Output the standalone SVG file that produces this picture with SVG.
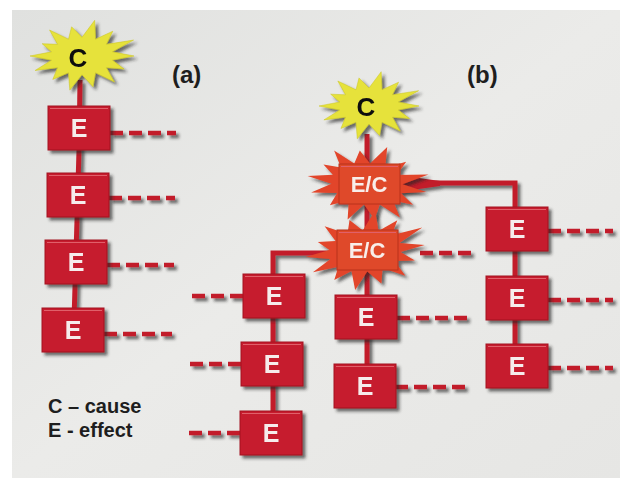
<svg xmlns="http://www.w3.org/2000/svg" xmlns:xlink="http://www.w3.org/1999/xlink" width="620" height="478" viewBox="0 0 620 478">
<defs>
<linearGradient id="page" x1="0" y1="0" x2="1" y2="1">
<stop offset="0" stop-color="#e0e1df"/>
<stop offset="0.5" stop-color="#ebebe9"/>
<stop offset="1" stop-color="#e6e6e4"/>
</linearGradient>
<filter id="sh" x="-20%" y="-20%" width="150%" height="150%">
<feDropShadow dx="3" dy="3" stdDeviation="1.5" flood-color="#222" flood-opacity="0.65"/>
</filter>
<polygon id="burst" points="50,0 29.3,4 40.5,12.5 23.5,11.2 31.2,25 13,16.2 10.6,29.6 0,18 -11.7,32.8 -13,16.2 -28.1,22.5 -23.5,11.2 -45.1,13.9 -29.3,4 -50,0 -29.3,-4 -38.3,-11.8 -23.5,-11.2 -31.2,-25 -13,-16.2 -10,-28.1 0,-18 12.2,-34.3 13,-16.2 29.6,-23.8 23.5,-11.2 49.6,-15.3 29.3,-4"/>
<style>
.lbl{font-family:"Liberation Sans",Arial,sans-serif;font-weight:bold;fill:#1e1e1e}
.ebox{fill:#c61f2e;stroke:#a3121f;stroke-width:1}
.ecbox{fill:#df4a2c;stroke:#b8301c;stroke-width:1}
.et{font-family:"Liberation Sans",Arial,sans-serif;font-weight:bold;font-size:25px;fill:#f6ecec;text-anchor:middle}
.ect{font-family:"Liberation Sans",Arial,sans-serif;font-weight:bold;font-size:22px;fill:#f8eeea;text-anchor:middle}
.ct{font-family:"Liberation Sans",Arial,sans-serif;font-weight:bold;font-size:26px;fill:#111;text-anchor:middle}
.cb{fill:#e6e23a;stroke:#c9c420;stroke-width:0.5}
.ecb{fill:#e2452a}
.line{fill:none;stroke:#c21e2c;stroke-width:5}
.dash{fill:none;stroke:#c21e2c;stroke-width:4.5;stroke-dasharray:13 6}
.hl{fill:none;stroke:#e0606a;stroke-width:1}
</style>
</defs>
<rect x="0" y="0" width="620" height="478" fill="#ffffff"/>
<rect x="12" y="10" width="608" height="468" fill="url(#page)"/>

<g id="connectors" filter="url(#sh)">
<path class="line" d="M80,80 L79,150 L77,220 L74,320"/>
<path class="line" d="M367,134 V390"/>
<path class="line" d="M400,183 H515 V370"/>
<polygon points="398,175 440,181 440,186 398,192" fill="#c21e2c"/>
<path class="line" d="M337,253 H273 V440"/>
<path class="dash" d="M110,133 H176"/>
<path class="dash" d="M109,198 H175"/>
<path class="dash" d="M107,265 H174"/>
<path class="dash" d="M104,334 H172"/>
<path class="dash" d="M420,253 H472"/>
<path class="dash" d="M243,296 H188"/>
<path class="dash" d="M241,364 H186"/>
<path class="dash" d="M240,433 H185"/>
<path class="dash" d="M397,318 H468"/>
<path class="dash" d="M395,387 H468"/>
<path class="dash" d="M548,231 H613"/>
<path class="dash" d="M548,300 H613"/>
<path class="dash" d="M548,368 H613"/>
</g>

<g id="cause-a" filter="url(#sh)">
<use xlink:href="#burst" class="cb" transform="translate(82,56) scale(1.04)"/>
<text class="ct" x="78" y="67">C</text>
</g>
<g id="effect-a1" filter="url(#sh)"><rect class="ebox" x="48" y="106" width="62" height="44"/><path class="hl" d="M50,108.5 H108"/><text class="et" x="79" y="137">E</text></g>
<g id="effect-a2" filter="url(#sh)"><rect class="ebox" x="47" y="173" width="62" height="44"/><path class="hl" d="M49,175.5 H107"/><text class="et" x="78" y="204">E</text></g>
<g id="effect-a3" filter="url(#sh)"><rect class="ebox" x="45" y="240" width="62" height="44"/><path class="hl" d="M47,242.5 H105"/><text class="et" x="76" y="271">E</text></g>
<g id="effect-a4" filter="url(#sh)"><rect class="ebox" x="42" y="308" width="62" height="44"/><path class="hl" d="M44,310.5 H102"/><text class="et" x="73" y="339">E</text></g>

<g id="label-a"><text class="lbl" x="172" y="83" font-size="24">(a)</text></g>
<g id="label-b"><text class="lbl" x="467" y="83" font-size="24">(b)</text></g>
<g id="legend">
<text class="lbl" x="48" y="413" font-size="20">C – cause</text>
<text class="lbl" x="48" y="437" font-size="20">E - effect</text>
</g>

<g id="cause-b" filter="url(#sh)">
<use xlink:href="#burst" class="cb" transform="translate(369,106)"/>
<text class="ct" x="366" y="116">C</text>
</g>
<g id="effect-cause-1" filter="url(#sh)">
<use xlink:href="#burst" class="ecb" transform="translate(367,184) scale(1.2,1.15) rotate(8)"/>
<rect class="ecbox" x="339" y="164" width="61" height="40"/><path class="hl" d="M341,166.5 H398" stroke="#f08a6a"/>
<text class="ect" x="369" y="192">E/C</text>
</g>
<g id="effect-cause-2" filter="url(#sh)">
<use xlink:href="#burst" class="ecb" transform="translate(365,251) scale(1.2,1.15) rotate(-6)"/>
<rect class="ecbox" x="337" y="230" width="61" height="40"/><path class="hl" d="M339,232.5 H396" stroke="#f08a6a"/>
<text class="ect" x="367" y="258">E/C</text>
</g>

<g id="effect-l1" filter="url(#sh)"><rect class="ebox" x="243" y="274" width="62" height="44"/><path class="hl" d="M245,276.5 H303"/><text class="et" x="274" y="305">E</text></g>
<g id="effect-l2" filter="url(#sh)"><rect class="ebox" x="241" y="342" width="62" height="44"/><path class="hl" d="M243,344.5 H301"/><text class="et" x="272" y="373">E</text></g>
<g id="effect-l3" filter="url(#sh)"><rect class="ebox" x="240" y="411" width="62" height="44"/><path class="hl" d="M242,413.5 H300"/><text class="et" x="271" y="442">E</text></g>
<g id="effect-m1" filter="url(#sh)"><rect class="ebox" x="335" y="295" width="62" height="44"/><path class="hl" d="M337,297.5 H395"/><text class="et" x="366" y="326">E</text></g>
<g id="effect-m2" filter="url(#sh)"><rect class="ebox" x="334" y="364" width="62" height="44"/><path class="hl" d="M336,366.5 H394"/><text class="et" x="365" y="395">E</text></g>
<g id="effect-r1" filter="url(#sh)"><rect class="ebox" x="486" y="207" width="62" height="44"/><path class="hl" d="M488,209.5 H546"/><text class="et" x="517" y="238">E</text></g>
<g id="effect-r2" filter="url(#sh)"><rect class="ebox" x="486" y="276" width="62" height="44"/><path class="hl" d="M488,278.5 H546"/><text class="et" x="517" y="307">E</text></g>
<g id="effect-r3" filter="url(#sh)"><rect class="ebox" x="486" y="344" width="62" height="44"/><path class="hl" d="M488,346.5 H546"/><text class="et" x="517" y="375">E</text></g>
</svg>
